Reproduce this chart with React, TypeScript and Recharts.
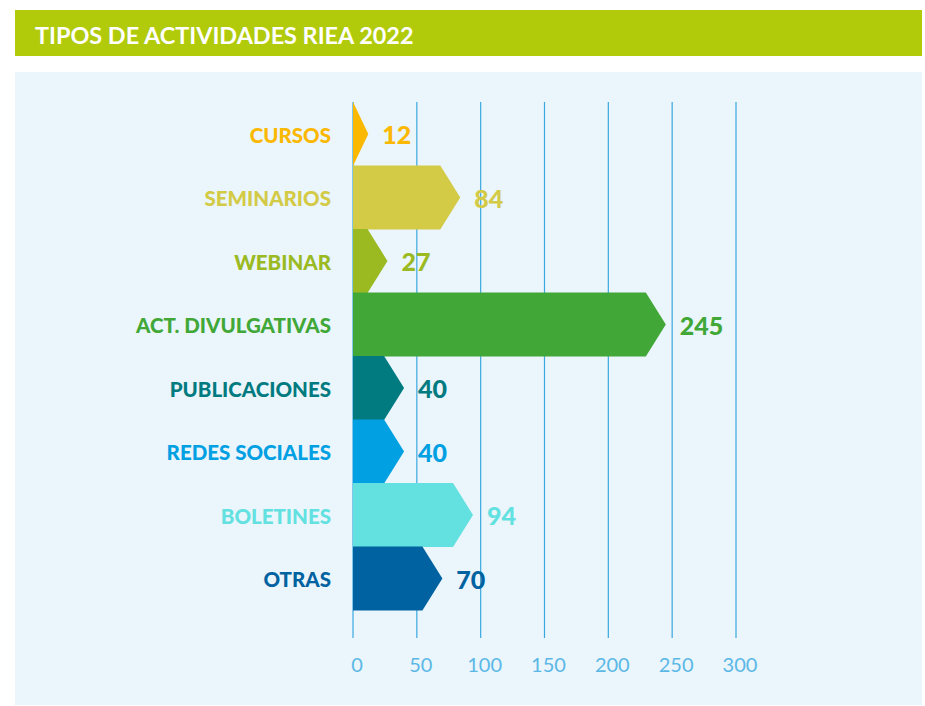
import React from "react";
import { BarChart, Bar, XAxis, YAxis, CartesianGrid, LabelList, Cell } from "recharts";

const categories = ["CURSOS", "SEMINARIOS", "WEBINAR", "ACT. DIVULGATIVAS", "PUBLICACIONES", "REDES SOCIALES", "BOLETINES", "OTRAS"];
const values = [12, 84, 27, 245, 40, 40, 94, 70];
const colors = ["#fbb800", "#d3ca45", "#9bba22", "#41a838", "#017b80", "#00a0e2", "#62e1e0", "#0062a0"];
const xTicks = [0, 50, 100, 150, 200, 250, 300];

const data = categories.map((name, i) => ({ name, value: values[i] }));

const FONT = "Lato, 'Open Sans', sans-serif";
const GRID = "#3aa8e0";

const ArrowShape = (props: any) => {
  const { x, y, width, height, fill } = props;
  if (!width || width <= 0) return null;
  const d = Math.min(20, width);
  const path = `M${x},${y} L${x + width - d},${y} L${x + width},${y + height / 2} L${x + width - d},${y + height} L${x},${y + height} Z`;
  return <path d={path} fill={fill} />;
};

const YTick = (props: any) => {
  const { x, y, payload } = props;
  const idx = categories.indexOf(payload.value);
  return (
    <text x={x - 22} y={y} dy={9} textAnchor="end" fill={colors[idx]} fontFamily={FONT} fontWeight={900} fontSize={20.5}>
      {payload.value}
    </text>
  );
};

const XTick = (props: any) => {
  const { x, y, payload } = props;
  return (
    <text x={x + 4} y={y + 62} textAnchor="middle" fill="#5bb8e6" fontFamily={FONT} fontWeight={400} fontSize={20}>
      {payload.value}
    </text>
  );
};

const ValueLabel = (props: any) => {
  const { x, y, width, height, value, index } = props;
  return (
    <text x={x + width + 14} y={y + height / 2} dy={10} textAnchor="start" fill={colors[index]} fontFamily={FONT} fontWeight={900} fontSize={25}>
      {value}
    </text>
  );
};

export default function App() {
  return (
    <div style={{ position: "absolute", left: 0, top: 0, width: 925, height: 706, background: "#ffffff", fontFamily: FONT }}>
      <div style={{ position: "absolute", left: 15, top: 10, width: 907, height: 46, background: "#b1cb0b" }}>
        <div style={{ position: "absolute", left: 20, top: 2, height: 46, lineHeight: "46px", color: "#ffffff", fontWeight: 700, fontSize: 23.4, whiteSpace: "nowrap" }}>
          TIPOS DE ACTIVIDADES RIEA 2022
        </div>
      </div>
      <div style={{ position: "absolute", left: 15, top: 72, width: 907, height: 633, background: "#eaf5fc" }} />
      <div style={{ position: "absolute", left: 0, top: 0 }}>
        <BarChart width={925} height={706} data={data} layout="vertical" margin={{ top: 102, right: 189, left: 0, bottom: 0 }} barCategoryGap={0}>
          <CartesianGrid vertical horizontal={false} stroke={GRID} strokeWidth={1.2} y={102} height={536} />
          <XAxis type="number" domain={[0, 300]} ticks={xTicks} axisLine={false} tickLine={false} tickSize={0} tickMargin={0} height={96} tick={<XTick />} interval={0} />
          <YAxis type="category" dataKey="name" width={353} axisLine={false} tickLine={false} tickSize={0} tickMargin={0} tick={<YTick />} interval={0} />
          <Bar dataKey="value" isAnimationActive={false} shape={<ArrowShape />}>
            {data.map((d, i) => (
              <Cell key={d.name} fill={colors[i]} />
            ))}
            <LabelList dataKey="value" content={<ValueLabel />} />
          </Bar>
        </BarChart>
      </div>
    </div>
  );
}
